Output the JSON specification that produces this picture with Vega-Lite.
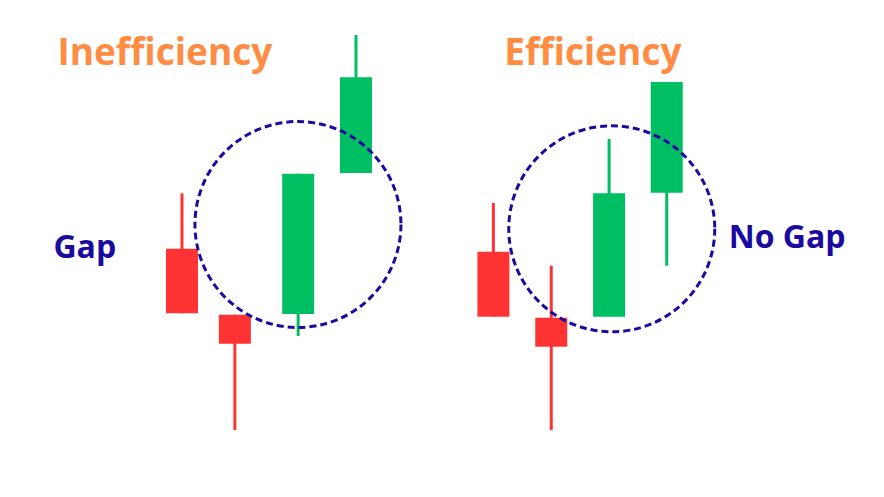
{
  "$schema": "https://vega.github.io/schema/vega-lite/v6.json",
  "autosize": {"type": "fit", "contains": "padding"},
  "width": 884,
  "height": 497,
  "padding": 0,
  "background": "white",
  "config": {"view": {"stroke": null}},
  "datasets": {
    "candles": [
      {"t": 179, "open": 248.3, "close": 183.7, "high": 303.7, "low": 183.7, "dir": "down"},
      {"t": 232.5, "open": 182.3, "close": 153.3, "high": 182.3, "low": 67, "dir": "down"},
      {"t": 296.5, "open": 183, "close": 323.3, "high": 323.3, "low": 161, "dir": "up"},
      {"t": 355, "open": 324, "close": 419.7, "high": 462, "low": 324, "dir": "up"},
      {"t": 494, "open": 245.3, "close": 180.3, "high": 294, "low": 180.3, "dir": "down"},
      {"t": 552.5, "open": 179.3, "close": 150.3, "high": 231.3, "low": 67, "dir": "down"},
      {"t": 611, "open": 180.3, "close": 303.7, "high": 358, "low": 180.3, "dir": "up"},
      {"t": 669.3, "open": 304.3, "close": 415, "high": 415, "low": 231.3, "dir": "up"}
    ],
    "circles": [
      {"t": 296.3, "p": 272.5},
      {"t": 613.7, "p": 268.2}
    ],
    "titles": [
      {"t": 53, "p": 432, "label": "Inefficiency"},
      {"t": 505, "p": 432, "label": "Efficiency"}
    ],
    "notes": [
      {"t": 49, "p": 239, "label": "Gap"},
      {"t": 732, "p": 249, "label": "No Gap"}
    ]
  },
  "layer": [
    {
      "data": {"name": "candles"},
      "mark": {"type": "rule", "strokeWidth": 3},
      "encoding": {
        "x": {"field": "t", "type": "quantitative", "scale": {"domain": [0, 884], "nice": false, "zero": false}, "axis": null},
        "y": {"field": "low", "type": "quantitative", "scale": {"domain": [0, 497], "nice": false, "zero": false}, "axis": null},
        "y2": {"field": "high"},
        "color": {"field": "dir", "type": "nominal", "scale": {"domain": ["down", "up"], "range": ["#ff3333", "#00bf63"]}, "legend": null}
      }
    },
    {
      "data": {"name": "candles"},
      "mark": {"type": "bar", "size": 32},
      "encoding": {
        "x": {"field": "t", "type": "quantitative"},
        "y": {"field": "open", "type": "quantitative"},
        "y2": {"field": "close"},
        "color": {"field": "dir", "type": "nominal", "legend": null}
      }
    },
    {
      "data": {"name": "circles"},
      "mark": {"type": "point", "shape": "circle", "size": 42436, "filled": false, "stroke": "#1a0aa0", "strokeWidth": 3, "strokeDash": [7, 4], "opacity": 1},
      "encoding": {
        "x": {"field": "t", "type": "quantitative"},
        "y": {"field": "p", "type": "quantitative"}
      }
    },
    {
      "data": {"name": "titles"},
      "mark": {"type": "text", "align": "left", "baseline": "alphabetic", "font": "Open Sans", "fontWeight": "bold", "fontSize": 37, "color": "#ff8c42"},
      "encoding": {
        "x": {"field": "t", "type": "quantitative"},
        "y": {"field": "p", "type": "quantitative"},
        "text": {"field": "label"}
      }
    },
    {
      "data": {"name": "notes"},
      "mark": {"type": "text", "align": "left", "baseline": "alphabetic", "font": "Open Sans", "fontWeight": "bold", "fontSize": 32, "color": "#1a0aa0"},
      "encoding": {
        "x": {"field": "t", "type": "quantitative"},
        "y": {"field": "p", "type": "quantitative"},
        "text": {"field": "label"}
      }
    }
  ]
}
